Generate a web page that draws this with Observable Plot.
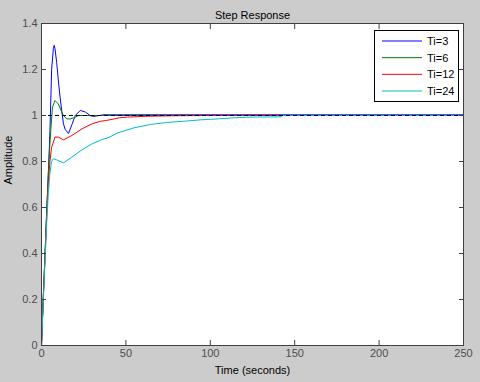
<!DOCTYPE html>
<html><head><meta charset="utf-8">
<script src="https://cdn.jsdelivr.net/npm/d3@7"></script>
<script src="https://cdn.jsdelivr.net/npm/@observablehq/plot@0.6"></script>
<style>
html,body{margin:0;padding:0;background:#cccccc;}
#wrap{position:relative;width:480px;height:382px;overflow:hidden;}
#legend{position:absolute;left:374px;top:30px;}
</style></head><body><div id="wrap"></div>
<script>
const titleText = "Step Response";
const xLabelText = "Time (seconds)";
const yLabelText = "Amplitude";
const seriesNames = ["Ti=3", "Ti=6", "Ti=12", "Ti=24"];
const seriesColors = ["#0000ff", "#008000", "#ff0000", "#00bfbf"];

const t3 = [0,1,2,3,4,5,6,7,7.5,8,9,10,11,12,13,14,16,18,20,23,26,29,31,34,37,50,100,150,200,250];
const a3 = [0,0.2,0.38,0.57,0.74,0.93,1.2,1.29,1.305,1.29,1.23,1.15,1.08,1.02,0.964,0.94,0.922,0.96,1.0,1.022,1.015,0.999,0.996,1.0,1.003,1.003,1.003,1.003,1.003,1.003];
const t6 = [0,1,2,3,4,5,5.5,6.5,8,10,12,13,15,17,19,22,30,60,250];
const a6 = [0,0.2,0.38,0.57,0.74,0.88,0.935,1.036,1.065,1.05,1.015,1.0,0.985,0.985,0.99,1.0,1.0,1.0,1.0];
const t12 = [0,1,2,3,4,5,6,8,10,13,18,24,30,35,38,43,46,51,63,80,100,142,250];
const a12 = [0,0.2,0.37,0.55,0.7,0.8,0.862,0.906,0.906,0.894,0.913,0.942,0.964,0.975,0.978,0.985,0.99,0.993,0.997,0.999,1.0,1.0,1.0];
const t24 = [0,1,2,3,4,5,6,7,9,13,18,24,30,35,40,45,54.6,64.5,74.4,84.3,94,104,114,124,142,143,250];
const a24 = [0,0.18,0.35,0.52,0.66,0.75,0.8,0.812,0.807,0.794,0.819,0.851,0.877,0.893,0.905,0.924,0.946,0.961,0.970,0.975,0.981,0.985,0.99,0.993,0.994,1.0,1.0];

const xTicks = [0, 50, 100, 150, 200, 250];
const yTicks = [0, 0.2, 0.4, 0.6, 0.8, 1, 1.2, 1.4];
const yTickLabels = ["0", "0.2", "0.4", "0.6", "0.8", "1", "1.2", "1.4"];
const steadyState = [1];

const times = [t3, t6, t12, t24];
const amps = [a3, a6, a12, a24];
const data = [];
seriesNames.forEach((name, i) => {
  times[i].forEach((t, j) => data.push({series: name, t, a: amps[i][j]}));
});

const font = '"Liberation Sans", Arial, sans-serif';
const axisColor = "#404040";

const chart = Plot.plot({
  width: 480,
  height: 382,
  marginLeft: 41,
  marginRight: 17,
  marginTop: 23,
  marginBottom: 37,
  style: {background: "#cccccc", fontFamily: font, fontSize: "11px", color: "#4d4d4d"},
  x: {domain: [0, 250]},
  y: {domain: [0, 1.4]},
  color: {domain: seriesNames, range: seriesColors},
  marks: [
    Plot.frame({fill: "white", stroke: null}),
    Plot.line(data, {x: "t", y: "a", z: "series", stroke: "series", strokeWidth: 1}),
    Plot.ruleY(steadyState, {stroke: "black", strokeDasharray: "4,3", strokeWidth: 1}),
    Plot.axisX({anchor: "bottom", ticks: xTicks, tickSize: -5, tickPadding: 9, label: null, stroke: axisColor, fill: "#4d4d4d"}),
    Plot.axisX({anchor: "top", ticks: xTicks, tickSize: -5, tickFormat: () => "", label: null, stroke: axisColor}),
    Plot.axisY({anchor: "left", ticks: yTicks, tickSize: -5, tickPadding: 9, label: null, stroke: axisColor, fill: "#4d4d4d",
      tickFormat: d => yTickLabels[yTicks.findIndex(v => Math.abs(v - d) < 1e-9)]}),
    Plot.axisY({anchor: "right", ticks: yTicks, tickSize: -5, tickFormat: () => "", label: null, stroke: axisColor}),
    Plot.frame({stroke: axisColor}),
    Plot.text([titleText], {text: d => d, frameAnchor: "top", dy: -12, fill: "black"}),
    Plot.text([xLabelText], {text: d => d, frameAnchor: "bottom", dy: 28, fill: "black"}),
    Plot.text([yLabelText], {text: d => d, frameAnchor: "left", rotate: -90, dx: -33, fill: "black"})
  ]
});
const wrap = document.getElementById("wrap");
wrap.appendChild(chart);

// legend
const ns = "http://www.w3.org/2000/svg";
const lg = document.createElementNS(ns, "svg");
lg.setAttribute("id", "legend");
lg.setAttribute("width", 86);
lg.setAttribute("height", 73);
lg.style.fontFamily = font;
lg.style.fontSize = "11px";
const box = document.createElementNS(ns, "rect");
box.setAttribute("x", 0.5); box.setAttribute("y", 0.5);
box.setAttribute("width", 84); box.setAttribute("height", 71);
box.setAttribute("fill", "white"); box.setAttribute("stroke", "black");
lg.appendChild(box);
seriesNames.forEach((name, i) => {
  const cy = 11 + i * 16.67;
  const ln = document.createElementNS(ns, "line");
  ln.setAttribute("x1", 8); ln.setAttribute("x2", 48);
  ln.setAttribute("y1", cy); ln.setAttribute("y2", cy);
  ln.setAttribute("stroke", seriesColors[i]);
  lg.appendChild(ln);
  const tx = document.createElementNS(ns, "text");
  tx.setAttribute("x", 53); tx.setAttribute("y", cy);
  tx.setAttribute("dominant-baseline", "central");
  tx.setAttribute("fill", "black");
  tx.textContent = name;
  lg.appendChild(tx);
});
wrap.appendChild(lg);
</script></body></html>
